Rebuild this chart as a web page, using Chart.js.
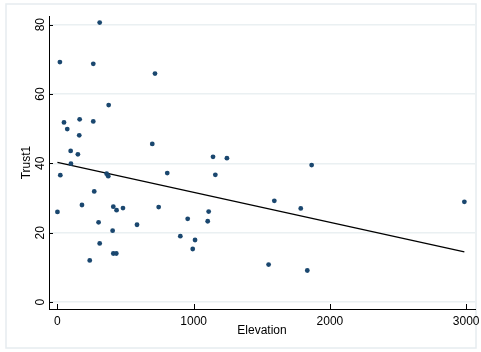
<!DOCTYPE html>
<html>
<head>
<meta charset="utf-8">
<script src="https://cdn.jsdelivr.net/npm/chart.js@4.4.1/dist/chart.umd.min.js"></script>
<style>
  html, body { margin: 0; padding: 0; background: #fff; }
</style>
</head>
<body>
<canvas id="grafico" width="481" height="352"></canvas>
<script>
const elevacion = [0, 18, 21, 48, 72, 97, 99, 150, 160, 163, 180, 237, 263, 263, 270, 302,
  310, 310, 361, 373, 376, 405, 410, 410, 432, 434, 481, 584, 696, 716, 743, 806,
  902, 956, 993, 1010, 1103, 1110, 1142, 1159, 1244, 1550, 1592, 1786, 1834, 1866, 2987];
const trust1 = [26.0, 69.2, 36.6, 51.8, 49.9, 43.6, 39.9, 42.6, 48.1, 52.7, 28.0, 12.0, 68.7, 52.1, 31.9, 23.0,
  80.6, 16.9, 37.0, 36.3, 56.8, 20.6, 27.5, 14.0, 14.0, 26.5, 27.1, 22.3, 45.6, 65.9, 27.4, 37.2,
  19.0, 24.0, 15.3, 17.9, 23.3, 26.1, 41.9, 36.7, 41.5, 10.8, 29.2, 27.0, 9.1, 39.5, 28.9];
const ticksX = [0, 1000, 2000, 3000];
const ticksY = [0, 20, 40, 60, 80];

const fuente = "'Liberation Sans', Arial, sans-serif";

// recta de ajuste (minimos cuadrados)
const n = elevacion.length;
const mediaX = elevacion.reduce((a, b) => a + b, 0) / n;
const mediaY = trust1.reduce((a, b) => a + b, 0) / n;
let sxy = 0, sxx = 0;
for (let i = 0; i < n; i++) {
  sxy += (elevacion[i] - mediaX) * (trust1[i] - mediaY);
  sxx += (elevacion[i] - mediaX) ** 2;
}
const pendiente = sxy / sxx;
const corte = mediaY - pendiente * mediaX;
const xMin = Math.min(...elevacion);
const xMax = Math.max(...elevacion);

const puntos = elevacion.map((x, i) => ({ x: x, y: trust1[i] }));
const recta = [xMin, xMax].map(x => ({ x: x, y: corte + pendiente * x }));

const marco = {
  id: "marco",
  beforeDraw(chart) {
    const ctx = chart.ctx;
    ctx.save();
    ctx.fillStyle = "#fff";
    ctx.fillRect(0, 0, chart.width, chart.height);
    ctx.strokeStyle = "#e6ecef";
    ctx.lineWidth = 1.5;
    ctx.strokeRect(6, 4, 470, 344);
    ctx.restore();
  },
  afterDraw(chart) {
    const { ctx, chartArea, scales } = chart;
    ctx.save();
    ctx.strokeStyle = "#000";
    ctx.lineWidth = 1;
    ticksY.forEach(v => {
      const py = Math.round(scales.y.getPixelForValue(v)) + 0.5;
      ctx.beginPath();
      ctx.moveTo(chartArea.left, py);
      ctx.lineTo(chartArea.left + 4, py);
      ctx.stroke();
    });
    ticksX.forEach(v => {
      const px = Math.round(scales.x.getPixelForValue(v)) + 0.5;
      ctx.beginPath();
      ctx.moveTo(px, chartArea.bottom);
      ctx.lineTo(px, chartArea.bottom - 5);
      ctx.stroke();
    });
    // etiquetas verticales del eje y
    ctx.fillStyle = "#000";
    ctx.font = "12px " + fuente;
    ctx.textAlign = "center";
    ctx.textBaseline = "middle";
    ticksY.forEach(v => {
      const py = scales.y.getPixelForValue(v);
      ctx.save();
      ctx.translate(41, py);
      ctx.rotate(-Math.PI / 2);
      ctx.fillText(String(v), 0, 0);
      ctx.restore();
    });
    ctx.restore();
  },
};

new Chart(document.getElementById("grafico"), {
  type: "scatter",
  data: {
    datasets: [
      {
        label: "Trust1",
        data: puntos,
        pointRadius: 2.4,
        pointBackgroundColor: "#1a476f",
        pointBorderWidth: 0,
      },
      {
        type: "line",
        label: "Fitted values",
        data: recta,
        borderColor: "#000",
        borderWidth: 1.3,
        pointRadius: 0,
        fill: false,
      },
    ],
  },
  options: {
    responsive: false,
    animation: false,
    devicePixelRatio: 1,
    layout: { padding: { left: 6, right: 6, top: 16, bottom: 5 } },
    plugins: {
      legend: { display: false },
      tooltip: { enabled: false },
    },
    scales: {
      x: {
        type: "linear",
        min: -62,
        max: 3065,
        afterBuildTicks: s => { s.ticks = ticksX.map(v => ({ value: v })); },
        afterFit: s => { s.height = 38; s.paddingLeft = 0; s.paddingRight = 0; },
        grid: { display: false, drawTicks: false },
        border: { display: true, color: "#000", width: 1 },
        ticks: {
          color: "#000",
          font: { size: 12, family: fuente },
          padding: 5,
          maxRotation: 0,
          autoSkip: false,
          callback: v => String(v),
        },
        title: {
          display: true,
          text: "Elevation",
          color: "#000",
          font: { size: 12, family: fuente },
          padding: { top: 0, bottom: 9 },
        },
      },
      y: {
        type: "linear",
        min: -2,
        max: 82.5,
        afterBuildTicks: s => { s.ticks = ticksY.map(v => ({ value: v })); },
        afterFit: s => { s.width = 43; s.paddingTop = 0; s.paddingBottom = 0; },
        grid: { color: "#eaf0f2", lineWidth: 1.5, drawTicks: false },
        border: { display: true, color: "#000", width: 1 },
        ticks: { display: false },
        title: {
          display: true,
          text: "Trust1",
          color: "#000",
          font: { size: 12, family: fuente },
          padding: { top: 13, bottom: 0 },
        },
      },
    },
  },
  plugins: [marco],
});
</script>
</body>
</html>
